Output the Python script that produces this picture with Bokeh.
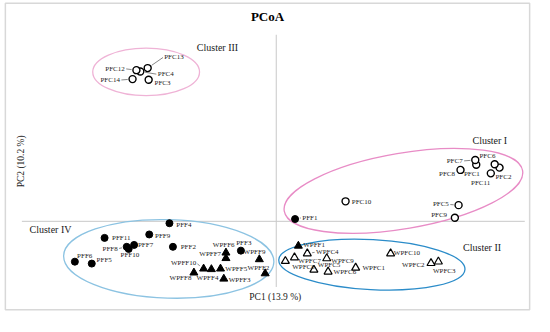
from bokeh.plotting import figure
from bokeh.models import Range1d
from bokeh.core.properties import value
from bokeh.embed import file_html
from bokeh.resources import INLINE
import math

# ---------------- data (PCoA coordinates) ----------------
pfc_names = ["PFC1", "PFC2", "PFC3", "PFC4", "PFC5", "PFC6", "PFC7", "PFC8",
             "PFC9", "PFC10", "PFC11", "PFC12", "PFC13", "PFC14"]
pfc_pc1 = [1.030, 1.150, -0.657, -0.700, 0.939, 1.125, 1.025, 0.949,
           0.920, 0.357, 1.105, -0.720, -0.662, -0.740]
pfc_pc2 = [0.297, 0.282, 0.744, 0.787, 0.085, 0.300, 0.322, 0.270,
           0.019, 0.105, 0.252, 0.794, 0.805, 0.747]

pff_names = ["PFF1", "PFF2", "PFF3", "PFF4", "PFF5", "PFF6", "PFF7", "PFF8",
             "PFF9", "PFF10", "PFF11"]
pff_pc1 = [0.097, -0.532, -0.182, -0.550, -0.950, -1.037, -0.732, -0.770,
           -0.654, -0.760, -0.884]
pff_pc2 = [0.012, -0.134, -0.154, -0.010, -0.222, -0.212, -0.124, -0.134,
           -0.069, -0.145, -0.087]

wpff_names = ["WPFF1", "WPFF2", "WPFF3", "WPFF4", "WPFF5", "WPFF6", "WPFF7",
              "WPFF8", "WPFF9", "WPFF10"]
wpff_pc1 = [0.114, -0.057, -0.270, -0.334, -0.287, -0.259, -0.259, -0.424,
            -0.087, -0.374]
wpff_pc2 = [-0.129, -0.274, -0.302, -0.252, -0.249, -0.165, -0.194, -0.270,
            -0.200, -0.249]

wpfc_names = ["WPFC1", "WPFC2", "WPFC3", "WPFC4", "WPFC5", "WPFC6", "WPFC7",
              "WPFC8", "WPFC9", "WPFC10"]
wpfc_pc1 = [0.409, 0.797, 0.835, 0.160, 0.194, 0.267, 0.094, 0.047, 0.260, 0.589]
wpfc_pc2 = [-0.244, -0.220, -0.212, -0.169, -0.255, -0.265, -0.190, -0.209,
            -0.195, -0.169]

# cluster ellipses
cluster_names = ["Cluster I", "Cluster II", "Cluster III", "Cluster IV"]
cluster_cx = [0.655, 0.4925, -0.67, -0.5535]
cluster_cy = [0.16, -0.2275, 0.785, -0.1975]
cluster_w = [1.245, 0.96, 0.55, 1.083]
cluster_h = [0.397, 0.263, 0.25, 0.412]
cluster_angle = [0.168, -0.052, 0.0, -0.03]

title_text = "PCoA"
x_title = "PC1 (13.9 %)"
y_title = "PC2 (10.2 %)"

# ---------------- layout / style ----------------
W, H = 534, 316
X0, X1 = -1.42, 1.33
Y0, Y1 = -0.50, 1.16
U = 200.0   # layout offsets below are given in units of 1/200 data unit

SERIF = value("Liberation Serif")

# label offsets (dx right, dy down) and alignment
label_style = {
    "PFC1": (-4.5, 10, "center"), "PFC2": (4, 10.3, "center"),
    "PFC3": (6, 3, "left"), "PFC4": (18, 3, "left"),
    "PFC5": (-10, -0.7, "right"), "PFC6": (-7.5, -8.7, "center"),
    "PFC7": (-13, 1, "right"), "PFC8": (-5.7, 4.3, "right"),
    "PFC9": (-8, -3, "right"), "PFC10": (6.4, 0.7, "left"),
    "PFC11": (-10.5, 10.3, "center"), "PFC12": (-12, -1.5, "right"),
    "PFC13": (17, -12, "left"), "PFC14": (-13, 1, "right"),
    "PFF1": (7.4, -1.4, "left"), "PFF2": (8, 0.6, "left"),
    "PFF3": (3, -7.7, "center"), "PFF4": (7, 2, "left"),
    "PFF5": (5, -3.6, "left"), "PFF6": (2.3, -5.6, "left"),
    "PFF7": (4, 0, "left"), "PFF8": (-9.3, 2, "right"),
    "PFF9": (6, 2, "left"), "PFF10": (1.3, 6.7, "center"),
    "PFF11": (7.7, 0, "left"),
    "WPFF1": (5, -0.4, "left"), "WPFF2": (-6.9, -6, "center"),
    "WPFF3": (5, 1, "left"), "WPFF4": (-4, 9.4, "center"),
    "WPFF5": (5, 0.3, "left"), "WPFF6": (-2.3, -7.7, "center"),
    "WPFF7": (-5, -4.7, "right"), "WPFF8": (-2.6, 5.7, "right"),
    "WPFF9": (-5, -7.7, "center"), "WPFF10": (-7.6, -6, "right"),
    "WPFC1": (7, 0, "left"), "WPFC2": (-6.6, 2.3, "right"),
    "WPFC3": (6, 9.4, "center"), "WPFC4": (9, -1.4, "left"),
    "WPFC5": (4, -4.7, "left"), "WPFC6": (5.7, 0.3, "left"),
    "WPFC7": (4, 3.7, "left"), "WPFC8": (7, 6.3, "left"),
    "WPFC9": (4.7, 2.7, "left"), "WPFC10": (3.3, 0, "left"),
}
leaders = ["PFC4", "PFC5", "PFC7", "PFC12", "PFC13", "PFC14", "PFF1", "PFF8",
           "WPFF8", "WPFF10", "WPFC4"]

cluster_colors = ["#e88cc6", "#2b8cc9", "#efb3d6", "#8cc3e2"]
cluster_label_pos = {"Cluster I": (1.10, 0.425), "Cluster II": (1.06, -0.135),
                     "Cluster III": (-0.3025, 0.915), "Cluster IV": (-1.1625, -0.045)}

p = figure(width=W, height=H, output_backend="svg", toolbar_location=None,
           x_range=Range1d(X0, X1), y_range=Range1d(Y0, Y1),
           x_axis_location=None, y_axis_location=None, min_border=0)
p.grid.visible = False
p.outline_line_color = None
p.background_fill_color = "white"

# outer frame of the figure panel
p.quad(left=[-1.395], right=[1.305], top=[1.145], bottom=[-0.465],
       fill_alpha=0, line_color="#d8d8d8", line_width=1.5)

# axis cross lines
p.line([0, 0], [-0.345, 0.98], line_color="#c8c8c8", line_width=1)
p.line([-1.31, 1.28], [0, 0], line_color="#c8c8c8", line_width=1)

# ellipses
p.ellipse(x=cluster_cx, y=cluster_cy, width=cluster_w, height=cluster_h,
          angle=cluster_angle, fill_alpha=0, line_color=cluster_colors,
          line_width=1.3)

# markers
p.scatter(pfc_pc1, pfc_pc2, marker="circle", size=7, fill_color="white",
          line_color="black", line_width=1.4)
p.scatter(pff_pc1, pff_pc2, marker="circle", size=7, fill_color="black",
          line_color="black")
p.scatter(wpff_pc1, wpff_pc2, marker="triangle", size=8, fill_color="black",
          line_color="black")
p.scatter(wpfc_pc1, wpfc_pc2, marker="triangle", size=8, fill_color="white",
          line_color="black", line_width=1.2)

# point labels
all_names = pfc_names + pff_names + wpff_names + wpfc_names
all_x = pfc_pc1 + pff_pc1 + wpff_pc1 + wpfc_pc1
all_y = pfc_pc2 + pff_pc2 + wpff_pc2 + wpfc_pc2
pos = {n: (x, y) for n, x, y in zip(all_names, all_x, all_y)}

for align in ["left", "right", "center"]:
    xs, ys, ts = [], [], []
    for n in all_names:
        dx, dy, a = label_style[n]
        if a != align:
            continue
        x, y = pos[n]
        xs.append(x + dx / U)
        ys.append(y - dy / U)
        ts.append(n)
    p.text(x=xs, y=ys, text=ts, text_font=SERIF, text_font_size="7px",
           text_align=align, text_baseline="middle", text_color="#1a1a1a")

# leader lines
lx0, ly0, lx1, ly1 = [], [], [], []
for n in leaders:
    dx, dy, a = label_style[n]
    x, y = pos[n]
    d = math.hypot(dx, dy)
    ux, uy = dx / d, dy / d
    sx0, sy0 = ux * 5, uy * 5
    sx1, sy1 = dx - ux * 1.5, dy - uy * 1.5
    lx0.append(x + sx0 / U); ly0.append(y - sy0 / U)
    lx1.append(x + sx1 / U); ly1.append(y - sy1 / U)
p.segment(lx0, ly0, lx1, ly1, line_color="#555555", line_width=0.7)

# cluster labels
p.text(x=[cluster_label_pos[c][0] for c in cluster_names],
       y=[cluster_label_pos[c][1] for c in cluster_names],
       text=cluster_names, text_font=SERIF, text_font_size="10px",
       text_align="center", text_baseline="middle", text_color="#1a1a1a")

# axis titles and title
p.text(x=[-0.005], y=[-0.40], text=[x_title], text_font=SERIF,
       text_font_size="9.5px", text_align="center", text_baseline="middle",
       text_color="#1a1a1a")
p.text(x=[-1.315], y=[0.315], text=[y_title], text_font=SERIF,
       text_font_size="9.5px", text_align="center", text_baseline="middle",
       angle=math.pi / 2, text_color="#1a1a1a")
p.text(x=[-0.045], y=[1.075], text=[title_text], text_font=SERIF,
       text_font_size="13px", text_font_style="bold", text_align="center",
       text_baseline="middle", text_color="black")

open("out.html", "w").write(file_html(p, INLINE))
